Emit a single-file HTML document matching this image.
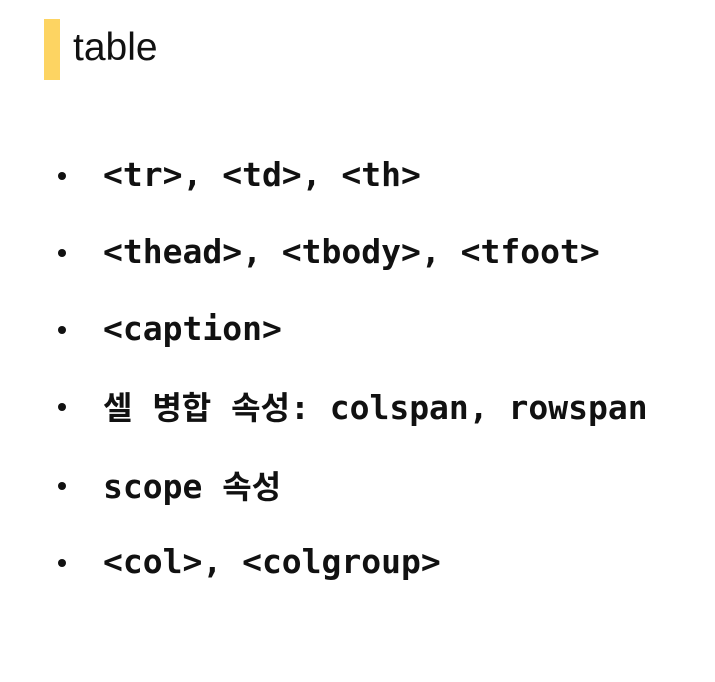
<!DOCTYPE html>
<html><head><meta charset="utf-8"><style>
html,body{margin:0;padding:0;background:#fff;}
body{width:715px;height:682px;position:relative;overflow:hidden;}
.bar{position:absolute;left:44px;top:19px;width:16px;height:61px;background:#fdd462;}
.title{position:absolute;left:73px;top:26px;font-family:"Liberation Sans",sans-serif;font-size:39px;color:#111;line-height:44px;}
.row{position:absolute;left:0;height:40px;line-height:40px;font-family:"DejaVu Sans Mono","Liberation Mono",monospace;font-weight:bold;font-size:33px;color:#111;white-space:pre;}
.dot{position:absolute;left:58px;width:8px;height:8px;border-radius:50%;background:#111;}
.txt{position:absolute;left:103px;top:0;}
.k{font-family:"Noto Sans CJK KR","NanumGothic",sans-serif;font-size:32px;font-weight:bold;}
</style></head><body>
<div class="bar"></div>
<div class="title">table</div>
<div class="row" style="top:155px;width:715px"><div class="dot" style="top:17px"></div><div class="txt">&lt;tr&gt;, &lt;td&gt;, &lt;th&gt;</div></div>
<div class="row" style="top:232px;width:715px"><div class="dot" style="top:17px"></div><div class="txt">&lt;thead&gt;, &lt;tbody&gt;, &lt;tfoot&gt;</div></div>
<div class="row" style="top:309px;width:715px"><div class="dot" style="top:17px"></div><div class="txt">&lt;caption&gt;</div></div>
<div class="row" style="top:386px;width:715px"><div class="dot" style="top:17px"></div><div class="txt"><span class="k">셀</span> <span class="k">병합</span> <span class="k">속성</span>: colspan, rowspan</div></div>
<div class="row" style="top:465px;width:715px"><div class="dot" style="top:17px"></div><div class="txt">scope <span class="k">속성</span></div></div>
<div class="row" style="top:542px;width:715px"><div class="dot" style="top:17px"></div><div class="txt">&lt;col&gt;, &lt;colgroup&gt;</div></div>
</body></html>
